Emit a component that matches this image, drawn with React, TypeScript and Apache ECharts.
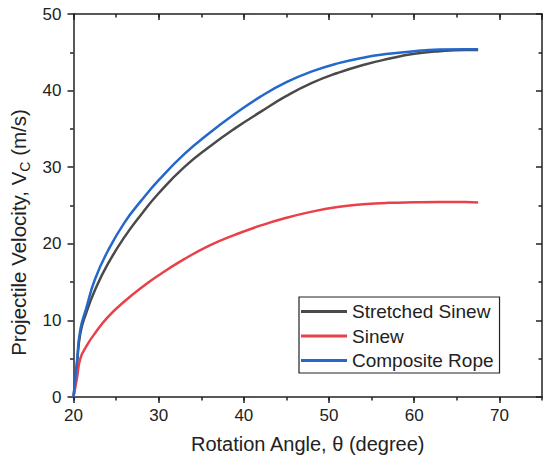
import React, { useEffect, useRef } from "react";
import * as echarts from "echarts";

const angles = [20, 20.4, 20.8, 21.5, 22.5, 24, 26, 28, 30, 33, 36, 39, 42, 45, 48, 51, 54, 57, 60, 63, 66, 67.5];
const stretchedSinew = [0, 4.2, 8.3, 11.0, 13.9, 17.3, 20.9, 23.9, 26.6, 30.0, 32.7, 35.1, 37.25, 39.3, 41.0, 42.3, 43.35, 44.15, 44.8, 45.15, 45.3, 45.3];
const sinew = [0, 2.4, 5.0, 6.6, 8.3, 10.4, 12.5, 14.3, 15.9, 18.0, 19.8, 21.2, 22.4, 23.4, 24.2, 24.8, 25.15, 25.35, 25.42, 25.45, 25.45, 25.4];
const compositeRope = [0, 4.5, 8.8, 11.6, 15.3, 19.0, 22.8, 25.7, 28.3, 31.7, 34.5, 37.0, 39.25, 41.1, 42.5, 43.55, 44.3, 44.8, 45.15, 45.35, 45.4, 45.4];

const seriesNames = ["Stretched Sinew", "Sinew", "Composite Rope"];
const seriesColors = ["#4a4a4a", "#e8414a", "#2468cc"];
const seriesValues = [stretchedSinew, sinew, compositeRope];

const FONT = "'Liberation Sans', Arial, sans-serif";
const AXIS_COLOR = "#222";

export default function App() {
  const ref = useRef<HTMLDivElement>(null);
  useEffect(() => {
    if (!ref.current) return;
    const chart = echarts.init(ref.current, null, { renderer: "svg" });
    const lineStyle = { color: AXIS_COLOR, width: 1.5 };
    const xCommon = { type: "value", min: 20, max: 75, splitLine: { show: false } };
    const yCommon = { type: "value", min: 0, max: 50, interval: 10, splitLine: { show: false } };
    chart.setOption({
      animation: false,
      textStyle: { fontFamily: FONT },
      grid: { left: 67, right: 8, top: 14, bottom: 68 },
      legend: {
        orient: "vertical",
        left: 299,
        top: 297,
        padding: [5, 6, 3, 2],
        itemGap: 5.5,
        itemWidth: 46,
        itemHeight: 3,
        icon: "rect",
        borderColor: "#222",
        borderWidth: 1.2,
        borderRadius: 0,
        backgroundColor: "#fff",
        textStyle: { fontSize: 19, color: "#222", fontFamily: FONT },
        data: seriesNames,
      },
      xAxis: [
        {
          ...xCommon,
          position: "bottom",
          interval: 10,
          name: "Rotation Angle, θ (degree)",
          nameLocation: "middle",
          nameGap: 37,
          nameTextStyle: { fontSize: 20, color: AXIS_COLOR, fontFamily: FONT },
          axisLine: { show: true, onZero: false, lineStyle },
          axisTick: { show: true, length: 6, lineStyle },
          axisLabel: { fontSize: 17, color: AXIS_COLOR, margin: 10, showMaxLabel: false, fontFamily: FONT },
        },
        {
          ...xCommon,
          position: "bottom",
          interval: 5,
          axisLine: { show: false, onZero: false },
          axisTick: { show: true, length: 3.5, lineStyle },
          axisLabel: { show: false },
        },
        {
          ...xCommon,
          position: "top",
          interval: 10,
          axisLine: { show: true, onZero: false, lineStyle },
          axisTick: { show: true, inside: true, length: 6, lineStyle },
          axisLabel: { show: false },
        },
        {
          ...xCommon,
          position: "top",
          interval: 5,
          axisLine: { show: false, onZero: false },
          axisTick: { show: true, inside: true, length: 3.5, lineStyle },
          axisLabel: { show: false },
        },
      ],
      yAxis: [
        {
          ...yCommon,
          position: "left",
          name: "{a|Projectile Velocity, V}{b|C}{a| (m/s)}",
          nameLocation: "middle",
          nameRotate: 90,
          nameGap: 42,
          nameTextStyle: {
            color: AXIS_COLOR,
            fontFamily: FONT,
            padding: [0, 54, 0, 0],
            rich: {
              a: { fontSize: 20.5, color: AXIS_COLOR, fontFamily: FONT, lineHeight: 26 },
              b: { fontSize: 14, color: AXIS_COLOR, fontFamily: FONT, lineHeight: 26, verticalAlign: "bottom" },
            },
          },
          axisLine: { show: true, onZero: false, lineStyle },
          axisTick: { show: true, length: 6, lineStyle },
          minorTick: { show: true, splitNumber: 2, length: 3.5, lineStyle },
          axisLabel: { fontSize: 17, color: AXIS_COLOR, margin: 12, fontFamily: FONT },
        },
        {
          ...yCommon,
          position: "right",
          axisLine: { show: true, onZero: false, lineStyle },
          axisTick: { show: true, inside: true, length: 6, lineStyle },
          minorTick: { show: true, splitNumber: 2, length: 3.5, lineStyle },
          axisLabel: { show: false },
        },
      ],
      series: seriesNames.map((name, i) => ({
        name,
        type: "line",
        xAxisIndex: 0,
        yAxisIndex: 0,
        data: angles.map((a, j) => [a, seriesValues[i][j]]),
        showSymbol: false,
        smooth: 0.5,
        lineStyle: { color: seriesColors[i], width: 2.5 },
        itemStyle: { color: seriesColors[i] },
      })),
    });
    return () => chart.dispose();
  }, []);
  return (
    <div
      ref={ref}
      style={{ position: "fixed", left: 0, top: 0, width: 550, height: 465, background: "#fff" }}
    />
  );
}
